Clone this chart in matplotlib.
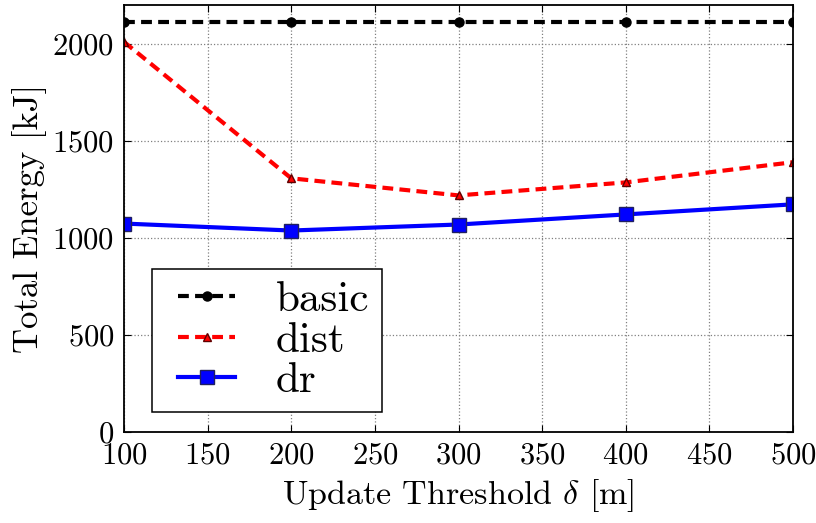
import matplotlib
matplotlib.use("Agg")
import matplotlib.pyplot as plt
from matplotlib.legend_handler import HandlerLine2D

x = [100, 200, 300, 400, 500]
basic = [2110, 2110, 2110, 2110, 2110]
dist = [2010, 1307, 1219, 1286, 1390]
dr = [1074, 1038, 1069, 1121, 1173]
xticks = [100, 150, 200, 250, 300, 350, 400, 450, 500]
yticks = [0, 500, 1000, 1500, 2000]

plt.rcParams['font.family'] = 'cmr10'
plt.rcParams['mathtext.fontset'] = 'cm'
plt.rcParams['axes.formatter.use_mathtext'] = True
plt.rcParams['xtick.direction'] = 'in'
plt.rcParams['ytick.direction'] = 'in'

fig = plt.figure(figsize=(8.16, 5.23), dpi=100)
ax = fig.add_axes([124/816, 1 - 432/523, (793-124)/816, (432-5)/523])

l1, = ax.plot(x, basic, '--', color='black', lw=3.0, marker='o', ms=6.5, mec='black', label='basic', dashes=(2.6, 1.5))
l2, = ax.plot(x, dist, '--', color='red', lw=3.0, marker='^', ms=6, mec='#600000', mfc='red', label='dist', dashes=(2.6, 1.5))
l3, = ax.plot(x, dr, '-', color='blue', lw=3.0, marker='s', ms=10.5, mec='#202060', mfc='blue', label='dr')

ax.set_xlim(100, 500)
ax.set_ylim(0, 2200)
ax.set_xticks(xticks)
ax.set_yticks(yticks)
ax.tick_params(labelsize=22, length=5, width=0.8, top=True, right=True, pad=7)
ax.grid(True, linestyle=':', color='gray', lw=0.9)
for s in ax.spines.values():
    s.set_linewidth(1.3)

ax.set_xlabel(r'Update Threshold $\delta$ [m]', fontsize=24.5, labelpad=6)
ax.set_ylabel('Total Energy [kJ]', fontsize=25, labelpad=4)

hm = {l: HandlerLine2D(xpad=0.33) for l in (l1, l2, l3)}
leg = ax.legend(loc='lower left', fontsize=31, fancybox=False, framealpha=1,
                edgecolor='black', borderpad=0.28, handlelength=1.65, handletextpad=0.95,
                borderaxespad=0, labelspacing=0.05, bbox_to_anchor=(0.042, 0.047),
                handler_map=hm)
leg.get_frame().set_linewidth(1.1)

fig.savefig('out.png', dpi=100)
